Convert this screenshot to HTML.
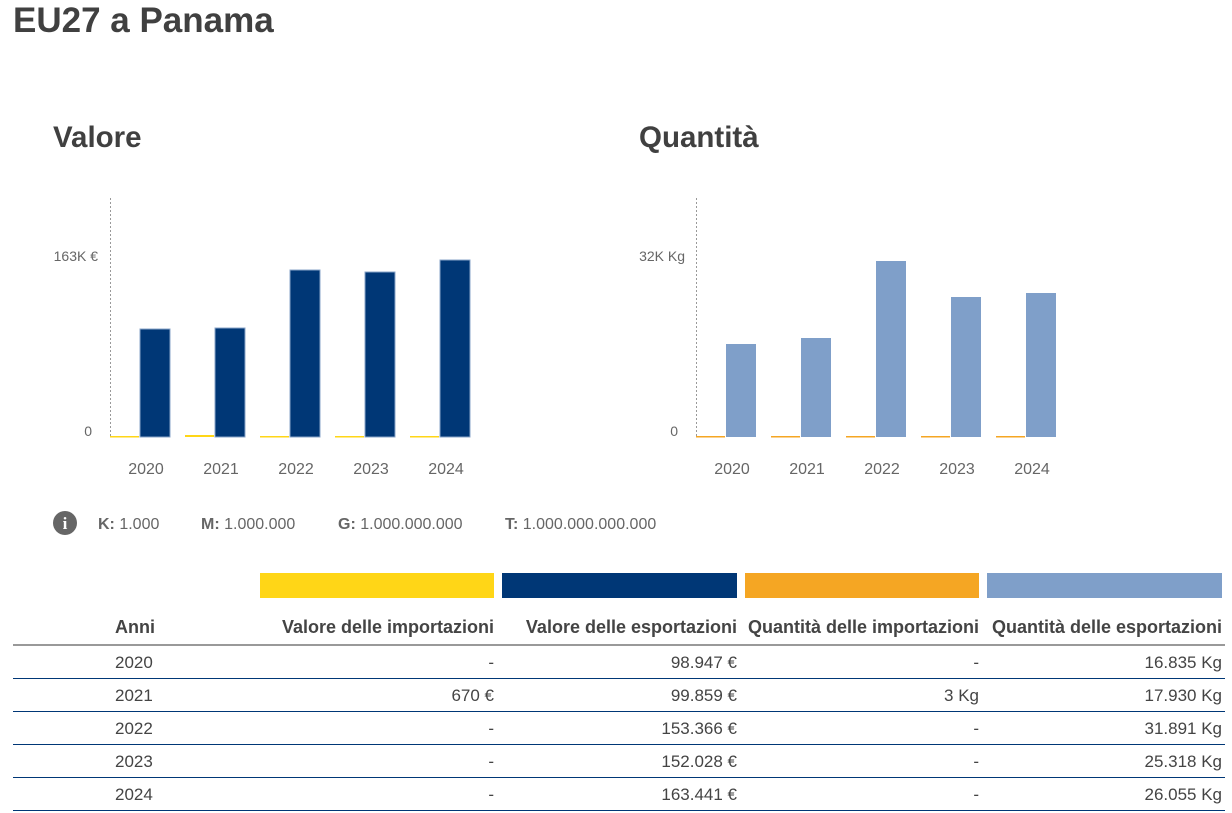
<!DOCTYPE html>
<html><head><meta charset="utf-8"><style>
body{margin:0;width:1232px;height:813px;background:#fff;font-family:"Liberation Sans",Arial,sans-serif;color:#444;position:relative;overflow:hidden}
.a{position:absolute}
h1{position:absolute;left:13px;top:1px;margin:0;font-size:35px;font-weight:bold;color:#404040}
h2{position:absolute;margin:0;font-size:29.5px;font-weight:bold;color:#404040}
.t{position:absolute;font-size:16px;color:#666;white-space:nowrap}
.lb{position:absolute;height:25px;top:573px}
.row{position:absolute;left:13px;width:1212px;height:33px;border-bottom:1px solid #003776;font-size:17px;color:#444}
.row span{position:absolute;top:8px;white-space:nowrap}
.hdr{font-weight:bold;border-bottom:2px solid #999;font-size:18px}
.hdr span{top:6px}
</style></head><body>
<h1>EU27 a Panama</h1>
<h2 style="left:53px;top:121px">Valore</h2>
<h2 style="left:639px;top:121px">Quantità</h2>
<svg class="a" style="left:0;top:0" width="1232" height="560">
<g stroke="#999" stroke-dasharray="2,2"><line x1="110.5" y1="198" x2="110.5" y2="437"/><line x1="696.5" y1="198" x2="696.5" y2="437"/></g>
<g fill="#003776" stroke="#8aa4c8" stroke-width="1">
<rect x="140" y="329" width="30" height="108"/><rect x="215" y="328" width="30" height="109"/><rect x="290" y="270" width="30" height="167"/><rect x="365" y="272" width="30" height="165"/><rect x="440" y="260" width="30" height="177"/></g>
<g fill="#7f9fc9">
<rect x="726" y="344" width="30" height="93"/><rect x="801" y="338" width="30" height="99"/><rect x="876" y="261" width="30" height="176"/><rect x="951" y="297" width="30" height="140"/><rect x="1026" y="293" width="30" height="144"/></g>
<g fill="#ffd617"><rect x="110" y="436" width="29" height="1.5"/><rect x="185" y="435" width="29" height="2"/><rect x="260" y="436" width="29" height="1.5"/><rect x="335" y="436" width="29" height="1.5"/><rect x="410" y="436" width="29" height="1.5"/></g>
<g fill="#f5a623"><rect x="696" y="436" width="29" height="1.5"/><rect x="771" y="436" width="29" height="1.5"/><rect x="846" y="436" width="29" height="1.5"/><rect x="921" y="436" width="29" height="1.5"/><rect x="996" y="436" width="29" height="1.5"/></g>
<g font-family="Liberation Sans,Arial,sans-serif" font-size="14" fill="#666" text-anchor="end">
<text x="98" y="261">163K €</text><text x="92" y="436">0</text>
<text x="685" y="261">32K Kg</text><text x="678" y="436">0</text></g>
<g font-family="Liberation Sans,Arial,sans-serif" font-size="16" fill="#666" text-anchor="middle">
<text x="146" y="474">2020</text><text x="221" y="474">2021</text><text x="296" y="474">2022</text><text x="371" y="474">2023</text><text x="446" y="474">2024</text>
<text x="732" y="474">2020</text><text x="807" y="474">2021</text><text x="882" y="474">2022</text><text x="957" y="474">2023</text><text x="1032" y="474">2024</text></g>
<circle cx="65" cy="523" r="12" fill="#666"/>
<text x="65" y="529" font-family="Liberation Serif,serif" font-weight="bold" font-size="17" fill="#fff" text-anchor="middle">i</text>
</svg>
<div class="t" style="left:98px;top:516px"><b>K:</b> 1.000</div>
<div class="t" style="left:201px;top:516px"><b>M:</b> 1.000.000</div>
<div class="t" style="left:338px;top:516px"><b>G:</b> 1.000.000.000</div>
<div class="t" style="left:505px;top:516px"><b>T:</b> 1.000.000.000.000</div>
<div class="lb" style="left:260px;width:234px;background:#ffd617"></div>
<div class="lb" style="left:502px;width:235px;background:#003776"></div>
<div class="lb" style="left:745px;width:234px;background:#f5a623"></div>
<div class="lb" style="left:987px;width:235px;background:#7f9fc9"></div>
<div class="row hdr" style="top:611px"><span style="left:102px">Anni</span><span style="right:731px">Valore delle importazioni</span><span style="right:488px">Valore delle esportazioni</span><span style="right:246px">Quantità delle importazioni</span><span style="right:3px">Quantità delle esportazioni</span></div>
<div class="row" style="top:645px"><span style="left:102px">2020</span><span style="right:731px">-</span><span style="right:488px">98.947 €</span><span style="right:246px">-</span><span style="right:3px">16.835 Kg</span></div>
<div class="row" style="top:678px"><span style="left:102px">2021</span><span style="right:731px">670 €</span><span style="right:488px">99.859 €</span><span style="right:246px">3 Kg</span><span style="right:3px">17.930 Kg</span></div>
<div class="row" style="top:711px"><span style="left:102px">2022</span><span style="right:731px">-</span><span style="right:488px">153.366 €</span><span style="right:246px">-</span><span style="right:3px">31.891 Kg</span></div>
<div class="row" style="top:744px"><span style="left:102px">2023</span><span style="right:731px">-</span><span style="right:488px">152.028 €</span><span style="right:246px">-</span><span style="right:3px">25.318 Kg</span></div>
<div class="row" style="top:777px"><span style="left:102px">2024</span><span style="right:731px">-</span><span style="right:488px">163.441 €</span><span style="right:246px">-</span><span style="right:3px">26.055 Kg</span></div>
</body></html>
